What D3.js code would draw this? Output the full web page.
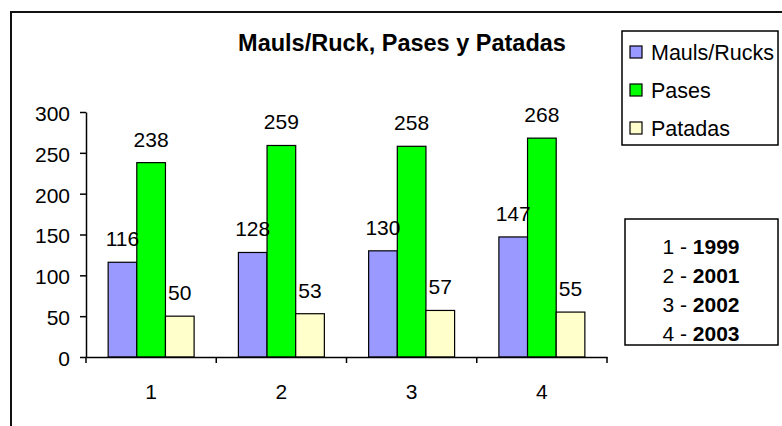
<!DOCTYPE html>
<html>
<head>
<meta charset="utf-8">
<script src="https://cdn.jsdelivr.net/npm/d3@7"></script>
<style>
  body { margin: 0; background: #fff; }
  svg, svg text { font-family: "Liberation Sans", Arial, sans-serif; }
  svg { display: block; }
</style>
</head>
<body>
<div id="chart"></div>
<script>
// Data

const categories = ["1", "2", "3", "4"];
const years = ["1999", "2001", "2002", "2003"];
const seriesNames = ["Mauls/Rucks", "Pases", "Patadas"];
const mauls = [116, 128, 130, 147];
const pases = [238, 259, 258, 268];
const patadas = [50, 53, 57, 55];
const yTicks = [0, 50, 100, 150, 200, 250, 300];
const colors = ["#9999ff", "#00ff00", "#ffffcc"];

const seriesValues = [mauls, pases, patadas];
const rows = categories.map((c, i) => ({
  cat: c,
  values: seriesNames.map((s, j) => ({ key: s, value: seriesValues[j][i] })),
}));

const width = 782;
const height = 426;
const margin = { top: 112, bottom: 69, left: 86, right: 175 };
const font = '"Liberation Sans", Arial, sans-serif';

const svg = d3
  .select("#chart")
  .append("svg")
  .attr("width", width)
  .attr("height", height);

// Outer frame (runs off the right and bottom edges)
svg
  .append("rect")
  .attr("x", 11)
  .attr("y", 12)
  .attr("width", 820)
  .attr("height", 500)
  .attr("fill", "none")
  .attr("stroke", "#111")
  .attr("stroke-width", 2);

svg
  .append("text")
  .attr("x", 402)
  .attr("y", 51)
  .attr("text-anchor", "middle")
  .style("font-size", "23.5px")
  .style("font-weight", "bold")
  .text("Mauls/Ruck, Pases y Patadas");

// Scales

const x0 = d3
  .scaleBand()
  .domain(categories)
  .range([margin.left, width - margin.right])
  .padding(0);

const x1 = d3
  .scaleBand()
  .domain(seriesNames)
  .range([x0.bandwidth() * 0.17, x0.bandwidth() * 0.83])
  .padding(0);

const y = d3
  .scaleLinear()
  .domain([0, 300])
  .range([height - margin.bottom, margin.top]);

const color = d3.scaleOrdinal().domain(seriesNames).range(colors);

// Bars

const groups = svg
  .selectAll("g.group")
  .data(rows)
  .enter()
  .append("g")
  .attr("class", "group")
  .attr("transform", (d) => `translate(${x0(d.cat)},0)`);

groups
  .selectAll("rect")
  .data((d) => d.values)
  .enter()
  .append("rect")
  .attr("x", (d) => x1(d.key))
  .attr("y", (d) => y(d.value))
  .attr("width", x1.bandwidth())
  .attr("height", (d) => y(0) - y(d.value))
  .attr("fill", (d) => color(d.key))
  .attr("stroke", "#000")
  .attr("stroke-width", 1.2);

groups
  .selectAll("text")
  .data((d) => d.values)
  .enter()
  .append("text")
  .attr("x", (d) => x1(d.key) + x1.bandwidth() / 2)
  .attr("y", (d) => y(d.value) - 16)
  .attr("text-anchor", "middle")
  .style("font-size", "21px")
  .text((d) => d.value);

// Axes

const yAxis = svg
  .append("g")
  .attr("transform", `translate(${margin.left}, 0)`)
  .call(d3.axisLeft(y).tickValues(yTicks).tickSize(6).tickPadding(10).tickSizeOuter(0));
yAxis.attr("font-family", font);
yAxis.select(".domain").attr("stroke-width", 1.5);
yAxis.selectAll("line").attr("stroke-width", 1.5);
yAxis
  .selectAll("text")
  .attr("dy", "0.4em")
  .style("font-size", "21px");

const xAxis = svg
  .append("g")
  .attr("transform", `translate(0, ${y(0)})`)
  .call(d3.axisBottom(x0).tickSize(0).tickPadding(27).tickSizeOuter(0));
xAxis.attr("font-family", font);
xAxis.select(".domain").attr("stroke-width", 1.5);
xAxis.selectAll("text").style("font-size", "21px");

// boundary ticks between categories
svg
  .append("g")
  .selectAll("line")
  .data(categories.map((c) => x0(c)).concat([x0.range()[1]]))
  .enter()
  .append("line")
  .attr("x1", (d) => d)
  .attr("x2", (d) => d)
  .attr("y1", y(0))
  .attr("y2", y(0) + 6)
  .attr("stroke", "#000")
  .attr("stroke-width", 1.5);

// Series legend

const legend = svg.append("g");
legend
  .append("rect")
  .attr("x", 622)
  .attr("y", 31)
  .attr("width", 156)
  .attr("height", 114)
  .attr("fill", "#fff")
  .attr("stroke", "#000")
  .attr("stroke-width", 1.5);

const legendItems = legend
  .selectAll("g.item")
  .data(seriesNames)
  .enter()
  .append("g")
  .attr("class", "item")
  .attr("transform", (d, i) => `translate(630, ${52 + i * 38})`);

legendItems
  .append("rect")
  .attr("x", 0)
  .attr("y", -6)
  .attr("width", 12)
  .attr("height", 12)
  .attr("fill", (d) => color(d))
  .attr("stroke", "#000")
  .attr("stroke-width", 1.2);

legendItems
  .append("text")
  .attr("x", 21)
  .attr("y", 8)
  .style("font-size", "21.5px")
  .text((d) => d);

// Year key

const key = svg.append("g");
key
  .append("rect")
  .attr("x", 625)
  .attr("y", 219)
  .attr("width", 153)
  .attr("height", 126)
  .attr("fill", "#fff")
  .attr("stroke", "#000")
  .attr("stroke-width", 1.5);

const keyText = key
  .selectAll("text")
  .data(categories)
  .enter()
  .append("text")
  .attr("x", 701)
  .attr("y", (d, i) => 254 + i * 29)
  .attr("text-anchor", "middle")
  .style("font-size", "21px");

keyText.append("tspan").text((d) => d + " - ");
keyText
  .append("tspan")
  .style("font-weight", "bold")
  .text((d, i) => years[i]);
</script>
</body>
</html>
